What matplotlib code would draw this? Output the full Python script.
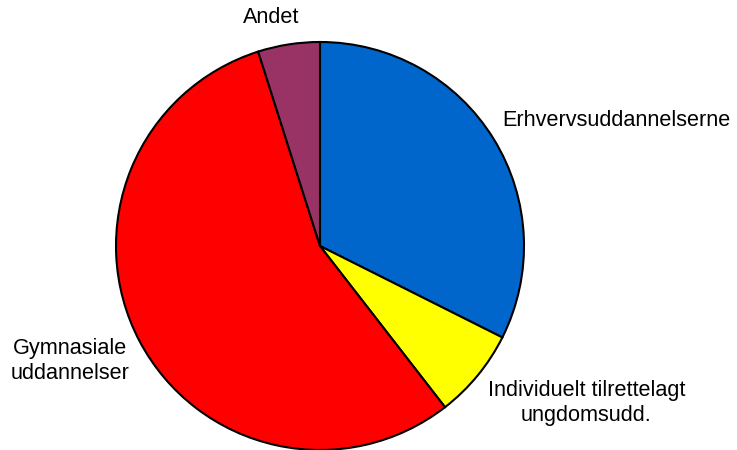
import matplotlib
matplotlib.use("Agg")
import matplotlib.pyplot as plt

labels = ["Erhvervsuddannelserne", "Individuelt tilrettelagt\nungdomsudd.", "Gymnasiale\nuddannelser", "Andet"]
shares = [32.4, 7.1, 55.6, 4.9]
colors = ["#0066CC", "#FFFF00", "#FF0000", "#993366"]

plt.rcParams['font.family'] = ['Liberation Sans', 'DejaVu Sans']

fig = plt.figure(figsize=(7.37, 4.5), dpi=100)
ax = fig.add_axes([0, 0, 1, 1])
ax.pie(shares, colors=colors, startangle=90, counterclock=False, radius=1.0,
       wedgeprops=dict(edgecolor="black", linewidth=1.5))

# pie centre at (320, 246) px, radius 204 px
r = 204.0
ax.set_xlim(-320 / r, (737 - 320) / r)
ax.set_ylim(-(450 - 246) / r, 246 / r)
ax.set_aspect("equal")
ax.axis("off")

label_pos = [(0.892, 0.613, "left"), (1.306, -0.770, "center"),
             (-1.225, -0.565, "center"), (-0.24, 1.118, "center")]
for lab, (x, y, ha) in zip(labels, label_pos):
    ax.text(x, y, lab, ha=ha, va="center", fontsize=15.6, linespacing=1.25)

fig.savefig("out.png", dpi=100)
